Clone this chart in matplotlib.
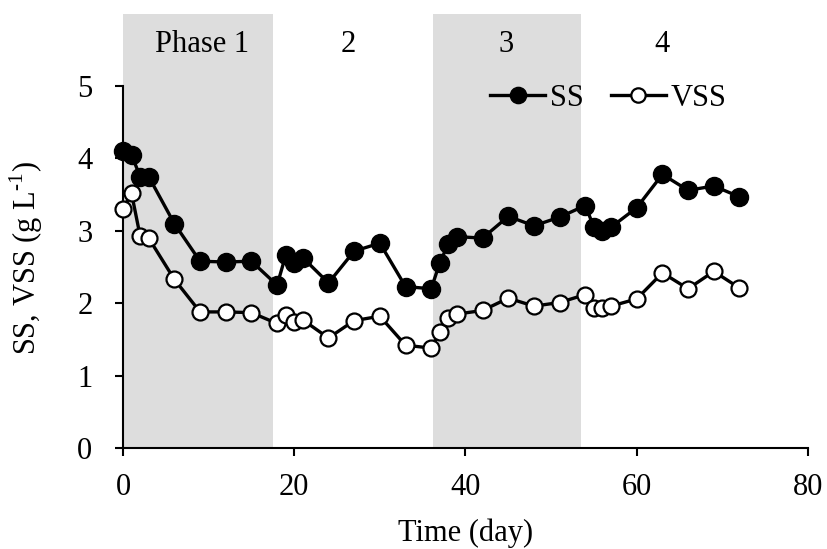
import matplotlib
matplotlib.use("Agg")
import matplotlib.pyplot as plt

plt.rcParams['font.family'] = ['Liberation Serif', 'DejaVu Serif']
plt.rcParams['mathtext.fontset'] = 'custom'
plt.rcParams['mathtext.rm'] = 'Liberation Serif'

# sampling days and concentrations (g/L)
days = [0, 1, 2, 3, 6, 9, 12, 15, 18, 19, 20, 21, 24, 27, 30, 33, 36, 37, 38, 39,
        42, 45, 48, 51, 54, 55, 56, 57, 60, 63, 66, 69, 72]
ss = [4.10, 4.05, 3.75, 3.75, 3.10, 2.58, 2.57, 2.58, 2.25, 2.66, 2.55, 2.63, 2.28,
      2.72, 2.83, 2.23, 2.20, 2.56, 2.82, 2.92, 2.90, 3.20, 3.07, 3.19, 3.35, 3.05,
      3.00, 3.05, 3.32, 3.78, 3.56, 3.62, 3.47]
vss = [3.30, 3.52, 2.93, 2.90, 2.33, 1.88, 1.88, 1.87, 1.72, 1.84, 1.74, 1.77, 1.52,
       1.76, 1.82, 1.42, 1.38, 1.60, 1.79, 1.85, 1.90, 2.07, 1.96, 2.01, 2.12, 1.93,
       1.94, 1.96, 2.06, 2.42, 2.20, 2.44, 2.21]

# operating phases (start, end, label, shaded)
phase_start = [0, 17.5, 36.2, 53.5]
phase_end = [17.5, 36.2, 53.5, 80]
phase_label = ['Phase 1', '2', '3', '4']
phase_shaded = [True, False, True, False]
label_x = [9.2, 26.3, 44.8, 63.0]

fig = plt.figure(figsize=(8.27, 5.49), dpi=100)
ax = fig.add_axes([0.1487, 0.184, 0.8283, 0.791])

for s, e, lab, sh, lx in zip(phase_start, phase_end, phase_label, phase_shaded, label_x):
    if sh:
        ax.axvspan(s, e, color='#dddddd', lw=0, zorder=0)
    ax.text(lx, 5.57, lab, ha='center', va='center', fontsize=22)

ax.plot(days, ss, '-o', color='black', lw=2.4, ms=13, mfc='black', mec='black',
        label='SS', clip_on=False, zorder=3)
ax.plot(days, vss, '-o', color='black', lw=2.4, ms=11.5, mfc='white', mec='black',
        mew=1.6, label='VSS', clip_on=False, zorder=3)

ax.set_xlim(0, 80)
ax.set_ylim(0, 6)
ax.set_xticks([0, 20, 40, 60, 80])
ax.set_yticks([0, 1, 2, 3, 4, 5])
ax.spines['left'].set_bounds(0, 5)
for side in ['top', 'right']:
    ax.spines[side].set_visible(False)
for side in ['left', 'bottom']:
    ax.spines[side].set_linewidth(1.5)
ax.tick_params(direction='out', length=6, width=1.5, labelsize=22)
ax.tick_params(axis='x', pad=12)
ax.tick_params(axis='y', pad=16)

ax.set_xlabel('Time (day)', fontsize=22)
ax.xaxis.set_label_coords(0.5, -0.162)
ax.set_ylabel(r'SS, VSS (g L$^{\text{-}1}$)', fontsize=22)
ax.yaxis.set_label_coords(-0.114, 2.63 / 6)

ax.legend(loc='center left', bbox_to_anchor=(0.536, 0.805), ncol=2, frameon=False,
          fontsize=22, handlelength=1.8, handletextpad=0.15, columnspacing=0.9,
          borderaxespad=0, borderpad=0, markerscale=0.9)

fig.savefig('out.png', dpi=100)
